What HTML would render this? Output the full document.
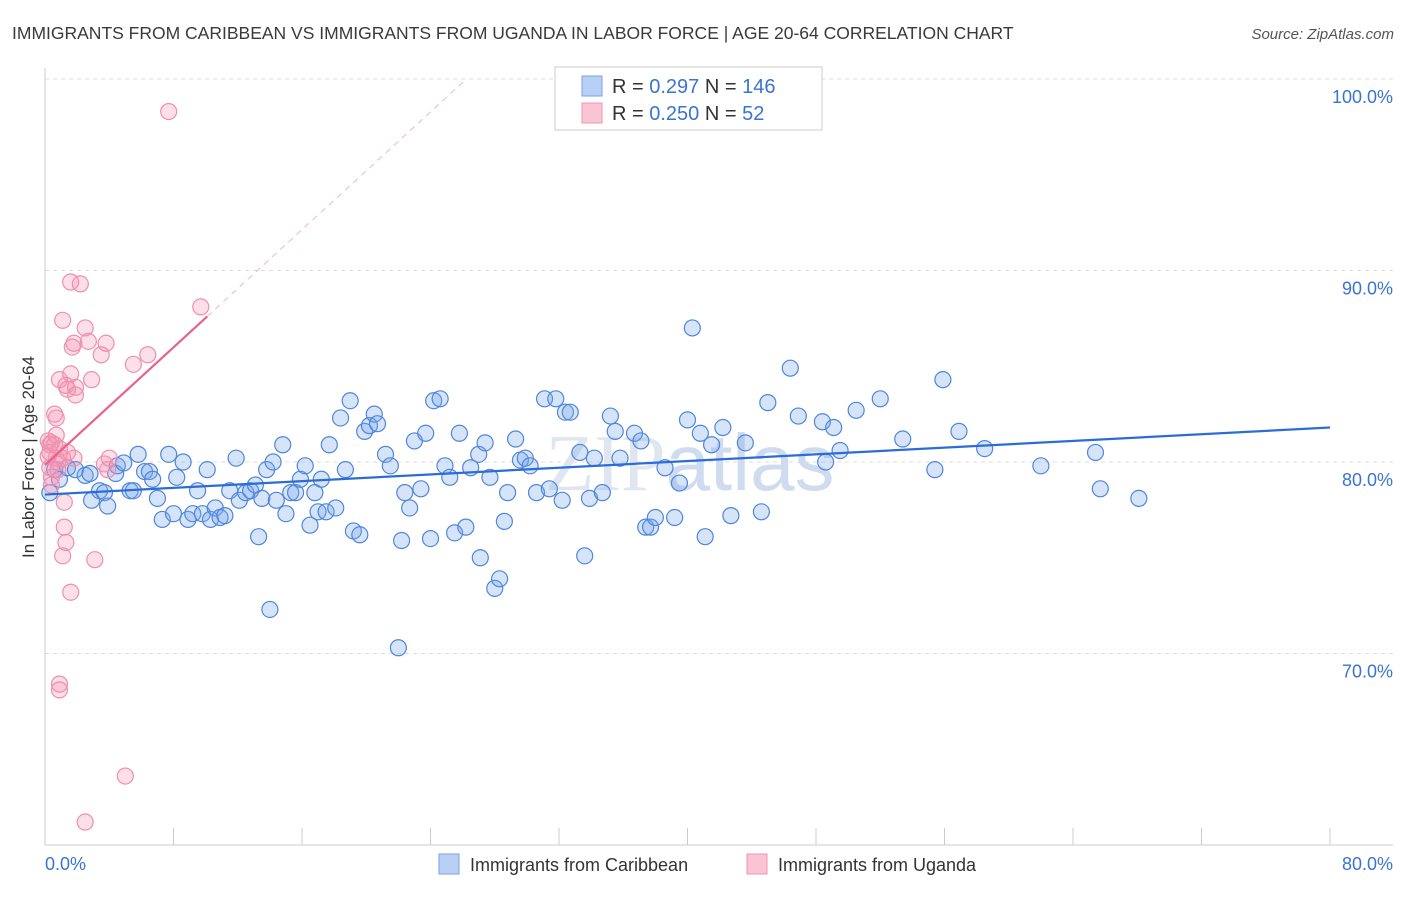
<!DOCTYPE html>
<html><head><meta charset="utf-8"><style>
body{margin:0;background:#fff;font-family:"Liberation Sans",sans-serif;}
</style></head><body>
<svg id="chart" width="1406" height="892" xmlns="http://www.w3.org/2000/svg" style="font-family:'Liberation Sans',sans-serif">
<text x="12" y="39" font-size="17.5" fill="#3a3a3a">IMMIGRANTS FROM CARIBBEAN VS IMMIGRANTS FROM UGANDA IN LABOR FORCE | AGE 20-64 CORRELATION CHART</text>
<text x="1394" y="39" font-size="15" fill="#555" font-style="italic" text-anchor="end">Source: ZipAtlas.com</text>
<g id="grid"></g>
<g id="axes"></g>
<text x="690" y="490" font-size="80" fill="#dfe6f0" text-anchor="middle" font-family="Liberation Serif,serif">ZIP<tspan fill="#cfdcef" font-family="Liberation Sans,sans-serif">atlas</tspan></text>
<g id="pts"></g>
<g id="trend"></g>
<g>
<rect x="555" y="67" width="267" height="63" fill="#fff" stroke="#ccc"/>
<rect x="582" y="76" width="20" height="20" fill="#b8d0f5" stroke="#7aa3e5"/>
<rect x="582" y="103" width="20" height="20" fill="#f9c4d4" stroke="#ef95b2"/>
<text x="612" y="93" font-size="20" fill="#333">R = <tspan fill="#3a74d0">0.297</tspan>   N = <tspan fill="#3a74d0">146</tspan></text>
<text x="612" y="120" font-size="20" fill="#333">R = <tspan fill="#3a74d0">0.250</tspan>   N =   <tspan fill="#3a74d0">52</tspan></text>
</g>
<text x="34" y="457" font-size="17" fill="#333" text-anchor="middle" transform="rotate(-90 34 457)">In Labor Force | Age 20-64</text>
<g>
<rect x="439" y="854" width="20" height="20" fill="#b8d0f5" stroke="#7aa3e5"/>
<text x="470" y="871" font-size="18" fill="#333">Immigrants from Caribbean</text>
<rect x="747" y="854" width="20" height="20" fill="#f9c4d4" stroke="#ef95b2"/>
<text x="778" y="871" font-size="18" fill="#333">Immigrants from Uganda</text>
</g>
</svg>
<script>
const yTicks=[70,80,90,100];
const yTickLabels=["70.0%","80.0%","90.0%","100.0%"];
const xTickLabels=["0.0%","80.0%"];
const blueX=[0.3,0.6,0.9,1.4,1.9,2.5,2.8,2.9,3.4,3.7,3.9,4.4,4.5,4.9,5.3,5.5,5.8,6.2,6.5,6.7,7.0,7.3,7.7,8.0,8.2,8.6,8.9,9.2,9.5,9.8,10.1,10.3,10.6,10.9,11.2,11.5,11.9,12.1,12.5,12.8,13.1,13.3,13.5,13.8,14.0,14.2,14.4,14.8,15.0,15.3,15.6,15.9,16.2,16.5,16.8,17.0,17.2,17.5,17.7,18.1,18.4,18.7,19.0,19.2,19.6,19.9,20.2,20.5,20.7,21.2,21.5,22.0,22.2,22.4,22.7,23.0,23.4,23.7,24.0,24.2,24.6,24.9,25.2,25.5,25.8,26.2,26.5,27.0,27.1,27.4,27.7,28.0,28.3,28.6,28.8,29.3,29.6,29.9,30.2,30.6,31.1,31.4,31.8,32.2,32.4,32.7,33.3,33.6,33.9,34.2,34.7,35.2,35.5,35.8,36.7,37.1,37.4,37.7,38.0,38.6,39.2,39.5,40.0,40.3,40.8,41.1,41.5,42.2,42.7,43.6,44.6,45.0,46.4,46.9,48.4,48.6,49.1,49.5,50.5,52.0,53.4,55.4,55.9,56.9,58.5,62.0,65.4,65.7,68.1];
const blueY=[78.4,79.6,79.1,79.7,79.6,79.3,79.4,78.0,78.5,78.4,77.7,79.4,79.8,79.95,78.5,78.5,80.4,79.5,79.5,79.1,78.1,77.0,80.4,77.3,79.2,80.0,77.0,77.3,78.5,77.3,79.6,77.0,77.6,77.1,77.2,78.5,80.2,78.0,78.4,78.5,78.8,76.1,78.1,79.6,72.3,80.0,78.0,80.9,77.3,78.4,78.4,79.1,79.8,76.7,78.4,77.4,79.1,77.4,80.9,77.6,82.3,79.6,83.2,76.4,76.2,81.6,81.9,82.5,82.0,80.4,79.8,70.3,75.9,78.4,77.6,81.1,78.6,81.5,76.0,83.2,83.3,79.8,79.2,76.3,81.5,76.6,79.7,80.4,75.0,81.0,79.2,73.4,73.9,76.9,78.4,81.2,80.1,80.2,79.8,78.4,83.3,78.6,83.3,78.0,82.6,82.6,80.5,75.1,78.1,80.2,78.4,82.4,81.6,80.2,81.5,81.1,76.6,76.6,77.1,79.7,77.1,78.9,82.2,87.0,81.5,76.1,80.9,81.8,77.2,81.0,77.4,83.1,84.9,82.4,82.1,80.0,81.8,80.6,82.7,83.3,81.2,79.6,84.3,81.6,80.7,79.8,80.5,78.6,78.1];
const pinkX=[0.3,0.4,0.2,0.3,0.6,0.7,0.4,0.7,0.8,0.9,0.8,0.9,1.1,1.2,1.1,1.3,1.6,1.3,1.4,1.6,1.7,1.8,1.9,1.9,1.6,2.2,2.5,2.7,2.9,3.1,3.5,3.8,3.7,3.9,4.0,5.0,5.5,6.4,7.7,9.7,0.9,0.9,2.5,1.2,0.3,0.6,1.1,1.4,1.8,0.7,0.4,0.2];
const pinkY=[79.7,79.2,81.1,80.9,82.5,82.3,81.0,80.2,80.0,80.7,79.6,84.3,87.4,76.6,75.1,75.8,73.2,84.0,83.8,84.6,86.0,86.2,83.5,83.9,89.4,89.3,87.0,86.3,84.3,74.9,85.6,86.2,79.9,79.6,80.2,63.6,85.1,85.6,98.3,88.1,68.4,68.1,61.2,77.9,80.5,80.9,80.2,80.5,80.2,81.4,78.8,80.3];
const blueTrend=[78.3,81.8];   // y at x=0 and x=80
const pinkTrend=[79.84,87.6];  // y at x=0 and x=10.1
const NS="http://www.w3.org/2000/svg";
const X0=45,X1=1330,Y100=79,PXPER=19.15;
const sx=v=>X0+(v/80)*(X1-X0);
const sy=v=>Y100+(100-v)*PXPER;
function mk(tag,attrs,parent){const e=document.createElementNS(NS,tag);for(const k in attrs)e.setAttribute(k,attrs[k]);parent.appendChild(e);return e;}
const grid=document.getElementById('grid'),axes=document.getElementById('axes'),pts=document.getElementById('pts'),trend=document.getElementById('trend');
yTicks.forEach((t,i)=>{
 const l=mk('line',{x1:X0,x2:1393,y1:sy(t),y2:sy(t),stroke:'#ddd','stroke-dasharray':'4 4'},grid);
 
 
 const tx=mk('text',{x:1393,y:sy(t)+24,'font-size':18,fill:'#3a74d0','text-anchor':'end'},grid);
 tx.textContent=yTickLabels[i];
 
 
});
const ya=mk('line',{x1:X0,x2:X0,y1:68,y2:845,stroke:'#ccc'},axes);


const xa=mk('line',{x1:X0,x2:1393,y1:845,y2:845,stroke:'#ccc'},axes);


for(let i=0;i<=10;i++){
 const t=mk('line',{x1:sx(i*8),x2:sx(i*8),y1:828,y2:845,stroke:'#ccc'},axes);
 
 
}
[[0,'start',45],[80,'end',1393]].forEach((d,i)=>{
 const t=mk('text',{x:d[2],y:870,'font-size':18,fill:'#3a74d0','text-anchor':d[1]},axes);
 t.textContent=xTickLabels[i];
 
 
});
blueX.forEach((x,i)=>{
 const c=mk('circle',{cx:sx(x),cy:sy(blueY[i]),r:8,fill:'rgba(120,165,235,0.3)',stroke:'#4f86db','stroke-width':1.2},pts);
 
 
});
pinkX.forEach((x,i)=>{
 const c=mk('circle',{cx:sx(x),cy:sy(pinkY[i]),r:8,fill:'rgba(245,150,180,0.3)',stroke:'#ee8fae','stroke-width':1.2},pts);
 
 
});
const bt=mk('line',{x1:sx(0),y1:sy(blueTrend[0]),x2:sx(80),y2:sy(blueTrend[1]),stroke:'#2a6dd6','stroke-width':2.2},trend);


const slope=(pinkTrend[1]-pinkTrend[0])/10.1;
const xe=(100-pinkTrend[0])/slope;
const pd=mk('line',{x1:sx(10.1),y1:sy(pinkTrend[1]),x2:sx(xe),y2:sy(100),stroke:'#f0b5c8','stroke-width':1,'stroke-dasharray':'6 5'},trend);


const pt=mk('line',{x1:sx(0),y1:sy(pinkTrend[0]),x2:sx(10.1),y2:sy(pinkTrend[1]),stroke:'#e8638c','stroke-width':2.2},trend);


</script>
</body></html>
